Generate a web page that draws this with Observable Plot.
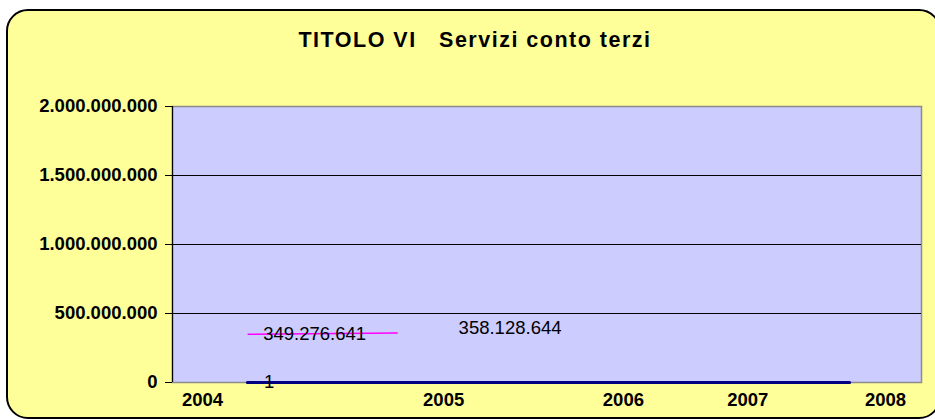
<!DOCTYPE html>
<html>
<head>
<meta charset="utf-8">
<script src="https://cdn.jsdelivr.net/npm/d3@7"></script>
<script src="https://cdn.jsdelivr.net/npm/@observablehq/plot@0.6"></script>
<style>
  html, body { margin: 0; padding: 0; background: #fff; }
  #wrap { position: relative; width: 935px; height: 419px; overflow: hidden; background: #fff; font-family: "Liberation Sans", Arial, sans-serif; }
  #box { position: absolute; left: 6px; top: 9px; width: 931px; height: 406px; background: #FFFF99; border: 2px solid #000; border-radius: 22px; }
  #title { position: absolute; left: 0; top: 28px; width: 950px; text-align: center; font: bold 21.5px "Liberation Sans", Arial, sans-serif; letter-spacing: 1.5px; color: #000; white-space: pre; }
  #chart { position: absolute; left: 0; top: 0; }
</style>
</head>
<body>
<div id="wrap">
  <div id="box"></div>
  <div id="title">TITOLO VI   Servizi conto terzi</div>
  <div id="chart"></div>
</div>
<script>
// Category axis labels and their positions along the (0–100) category axis
const years = ["2004", "2005", "2006", "2007", "2008"];
const yearPos = [4.0, 36.2, 60.2, 76.8, 95.2];

// Y axis ticks
const yTicks = [0, 500000000, 1000000000, 1500000000, 2000000000];

// Series 1 (magenta)
const magentaPos = [10.1, 30.0];
const magentaValues = [349276641, 358128644];

// Series 2 (navy)
const navyPos = [10.0, 90.4];
const navyValues = [1, 1];

// Data labels
const labelTexts = ["349.276.641", "358.128.644", "1"];
const labelPos = [12.1, 38.2, 12.9];
const labelValues = [349276641, 358128644, 1];

const it = d3.formatLocale({decimal: ",", thousands: ".", grouping: [3], currency: ["", "€"]});
const fmt = it.format(",");

const magenta = magentaPos.map((x, i) => ({x, y: magentaValues[i]}));
const navy = navyPos.map((x, i) => ({x, y: navyValues[i]}));
const labels = labelTexts.map((t, i) => ({t, x: labelPos[i], y: labelValues[i]}));

const chart = Plot.plot({
  width: 935,
  height: 419,
  marginLeft: 172,
  marginRight: 14,
  marginTop: 106,
  marginBottom: 37,
  style: {background: "transparent", fontFamily: "Liberation Sans, Arial, sans-serif", overflow: "visible"},
  x: {domain: [0, 100], axis: null},
  y: {domain: [0, 2000000000], axis: null},
  marks: [
    Plot.frame({fill: "#CCCCFF", stroke: "#8C8C8C", strokeWidth: 1.5}),
    Plot.gridY(yTicks.filter(d => d > 0 && d < 2000000000), {stroke: "#000", strokeOpacity: 1, strokeWidth: 1}),
    Plot.ruleX([0], {stroke: "#000", strokeWidth: 1.2}),
    Plot.axisY({ticks: yTicks, tickFormat: fmt, label: null, tickSize: 7, tickPadding: 8, fontWeight: "bold", fontSize: 18.5, stroke: "#000", fill: "#000"}),
    Plot.line(navy, {x: "x", y: "y", stroke: "#000080", strokeWidth: 3}),
    Plot.line(magenta, {x: "x", y: "y", stroke: "#FF00FF", strokeWidth: 1.5}),
    Plot.text(labels.slice(0, 1), {x: "x", y: "y", text: "t", textAnchor: "start", lineAnchor: "middle", fontSize: 18.5, fill: "#000"}),
    Plot.text(labels.slice(1, 2), {x: "x", y: "y", text: "t", textAnchor: "start", lineAnchor: "middle", dy: -5, fontSize: 18.5, fill: "#000"}),
    Plot.text(labels.slice(2, 3), {x: "x", y: "y", text: "t", textAnchor: "middle", lineAnchor: "middle", fontSize: 18.5, fill: "#000"}),
    Plot.axisX({ticks: yearPos, tickFormat: d => years[yearPos.indexOf(d)], label: null, tickSize: 0, tickPadding: 10, fontWeight: "bold", fontSize: 18.5, fill: "#000"})
  ]
});
document.getElementById("chart").appendChild(chart);
</script>
</body>
</html>
